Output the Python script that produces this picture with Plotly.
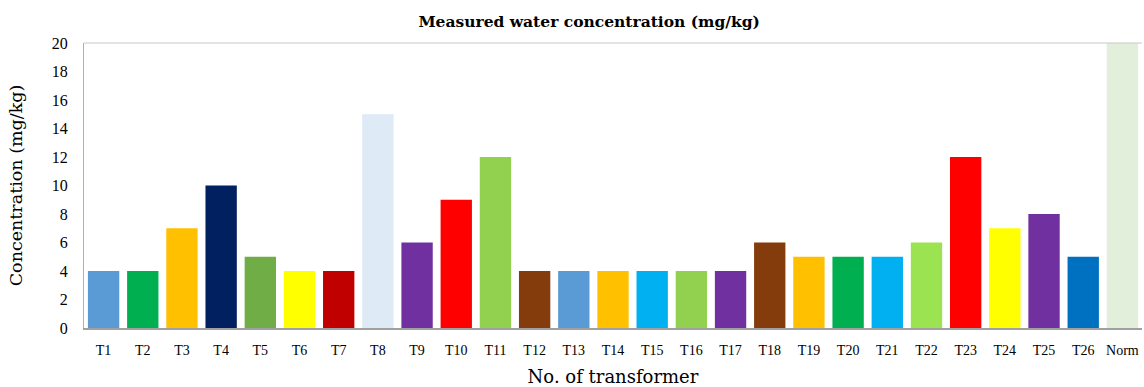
import plotly.graph_objects as go

categories = ["T1","T2","T3","T4","T5","T6","T7","T8","T9","T10","T11","T12","T13",
              "T14","T15","T16","T17","T18","T19","T20","T21","T22","T23","T24","T25","T26","Norm"]
values = [4, 4, 7, 10, 5, 4, 4, 15, 6, 9, 12, 4, 4, 4, 4, 4, 4, 6, 5, 5, 5, 6, 12, 7, 8, 5, 20]
colors = ["#5B9BD5","#00B050","#FFC000","#002060","#70AD47","#FFFF00","#C00000","#DEEAF6",
          "#7030A0","#FF0000","#92D050","#843C0C","#5B9BD5","#FFC000","#00B0F0","#92D050",
          "#7030A0","#843C0C","#FFC000","#00B050","#00B0F0","#9BE350","#FF0000","#FFFF00",
          "#7030A0","#0070C0","#E2EFDA"]
y_ticks = list(range(0, 21, 2))

tick_font = "Liberation Serif, serif"
title_font = "DejaVu Serif, Liberation Serif, serif"

fig = go.Figure(go.Bar(x=categories, y=values, marker=dict(color=colors, line=dict(width=0))))

fig.update_layout(
    width=1144, height=387,
    margin=dict(l=84, r=2, t=43, b=59),
    paper_bgcolor="white", plot_bgcolor="white",
    bargap=0.2,
    showlegend=False,
    font=dict(family=tick_font, color="black"),
    title=dict(text="<b>Measured water concentration (mg/kg)</b>", x=0.515, xanchor="center",
               y=0.945, yanchor="middle", font=dict(size=15.5, family=title_font)),
    xaxis=dict(title=dict(text="No. of transformer", font=dict(size=18, family=title_font), standoff=14),
               tickfont=dict(size=14), ticklabelstandoff=8,
               showline=True, linecolor="#A0A0A0", linewidth=2,
               mirror=False, ticks="", showgrid=False),
    yaxis=dict(title=dict(text="Concentration (mg/kg)", font=dict(size=17.5, family=title_font), standoff=24),
               range=[0, 20], tickvals=y_ticks, tickfont=dict(size=16), ticklabelstandoff=12,
               showline=True, linecolor="#B0B0B0", linewidth=1, ticks="", showgrid=False,
               zeroline=False),
    shapes=[dict(type="line", xref="paper", yref="paper", x0=0, x1=1, y0=1, y1=1,
                 line=dict(color="#C8C8C8", width=1))],
)

fig.write_html("out.html")
